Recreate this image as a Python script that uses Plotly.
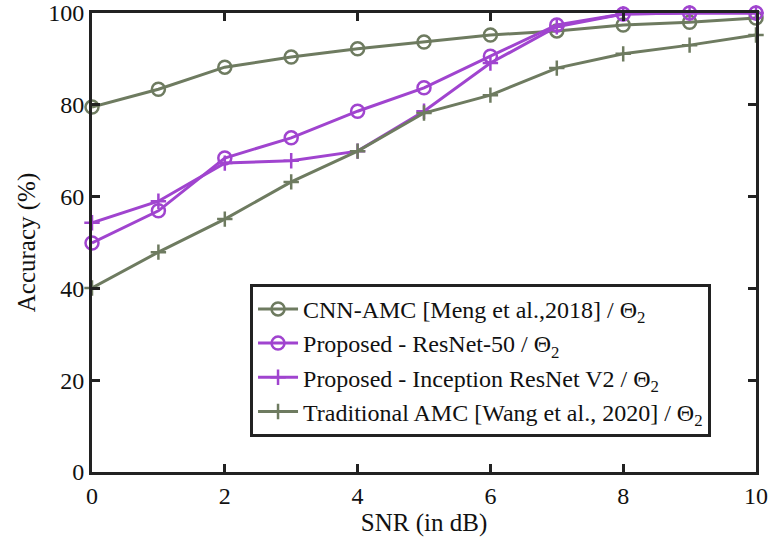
import plotly.graph_objects as go

snr = [0, 1, 2, 3, 4, 5, 6, 7, 8, 9, 10]

cnn_amc = [79.5, 83.4, 88.2, 90.4, 92.2, 93.7, 95.2, 96.1, 97.4, 98.0, 98.9]
resnet50 = [49.9, 56.9, 68.4, 72.8, 78.6, 83.7, 90.6, 97.4, 99.8, 100, 100]
inception_v2 = [54.3, 59.0, 67.3, 67.8, 69.9, 78.6, 89.1, 97.0, 99.8, 100, 100]
traditional = [40.1, 47.9, 55.1, 63.2, 69.9, 78.2, 82.1, 88.0, 91.1, 93.0, 95.2]

names = [
    "CNN-AMC [Meng et al.,2018] / Θ<sub>2</sub>",
    "Proposed - ResNet-50 / Θ<sub>2</sub>",
    "Proposed - Inception ResNet V2 / Θ<sub>2</sub>",
    "Traditional AMC [Wang et al., 2020] / Θ<sub>2</sub>",
]

GREEN = "#6e7b60"
PURPLE = "#a044cf"

series = [
    (cnn_amc, GREEN, "circle-open", 13),
    (resnet50, PURPLE, "circle-open", 13),
    (inception_v2, PURPLE, "cross-thin-open", 11),
    (traditional, GREEN, "cross-thin-open", 11),
]

fig = go.Figure()
for (vals, color, sym, size), name in zip(series, names):
    fig.add_trace(go.Scatter(
        x=snr, y=vals, name=name, mode="lines+markers",
        line=dict(color=color, width=3),
        marker=dict(symbol=sym, size=size, color=color,
                    line=dict(color=color, width=2.5)),
        cliponaxis=False,
    ))

font_family = "Liberation Serif, Times New Roman, serif"
axis_common = dict(
    showgrid=False, zeroline=False, showline=True, mirror="ticks",
    linecolor="#222222", linewidth=3, ticks="inside", ticklen=8,
    tickwidth=3, tickcolor="#222222", automargin=False,
    tickfont=dict(family=font_family, size=24, color="#111111"),
)

fig.update_layout(
    width=770, height=550,
    margin=dict(l=92, r=14, t=13, b=78),
    plot_bgcolor="white", paper_bgcolor="white",
    font=dict(family=font_family, color="#111111"),
    xaxis=dict(range=[0, 10], tickvals=[0, 2, 4, 6, 8, 10],
               title=dict(text="SNR (in dB)", font=dict(size=25), standoff=4),
               **axis_common),
    yaxis=dict(range=[0, 100], tickvals=[0, 20, 40, 60, 80, 100],
               title=dict(text="Accuracy (%)", font=dict(size=25), standoff=6),
               **axis_common),
    legend=dict(
        x=0.238, y=0.41, xanchor="left", yanchor="top",
        bgcolor="white", bordercolor="#222222", borderwidth=3,
        font=dict(family=font_family, size=24, color="#111111"),
        tracegroupgap=0, itemwidth=40,
    ),
)

fig.write_html("out.html")
